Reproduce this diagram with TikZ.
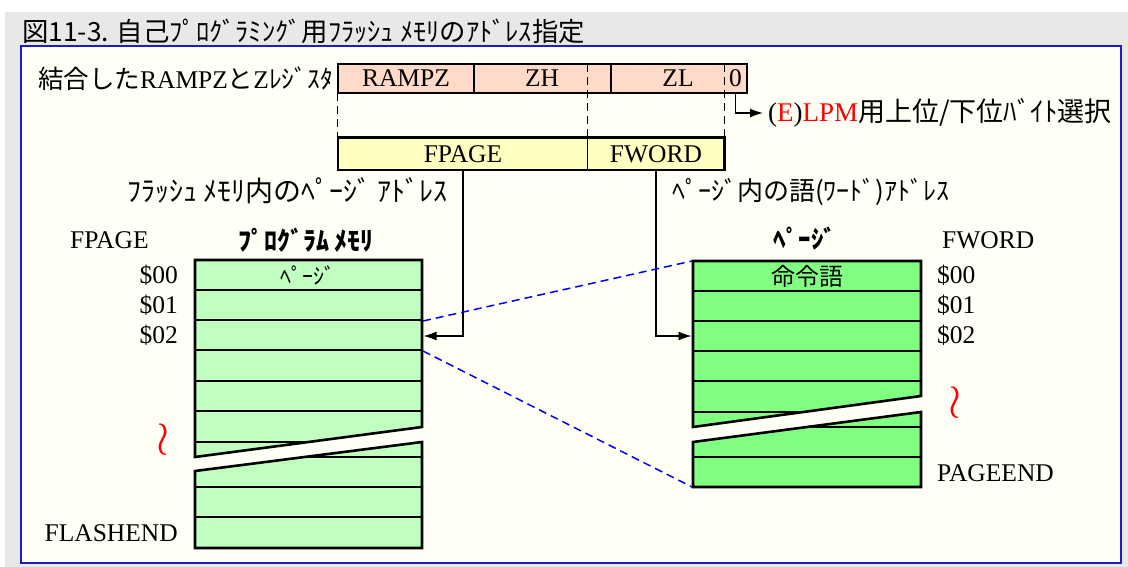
\documentclass[tikz,border=0pt]{standalone}
\usepackage{fontspec}
\setmainfont{Liberation Serif}
\newfontfamily\jp{Noto Sans CJK JP}
\usetikzlibrary{arrows,arrows.meta,shapes}
\definecolor{outergray}{HTML}{E8E8E8}
\definecolor{panelbg}{HTML}{FFFFF6}
\definecolor{frameblue}{HTML}{1C1CC8}
\definecolor{regpeach}{HTML}{FFDAC8}
\definecolor{wordyellow}{HTML}{FFFFC0}
\definecolor{flashgreen}{HTML}{C0FFC0}
\definecolor{pagegreen}{HTML}{80FF80}
\tikzstyle{membox}=[draw,line width=2.6pt,line join=miter]
\tikzstyle{rowline}=[draw,line width=1.2pt]
\tikzstyle{txt}=[inner sep=0pt,font=\fontsize{25.5}{28}\selectfont]
\tikzstyle{jptxt}=[inner sep=0pt,font=\jp\fontsize{27}{30}\selectfont]
\tikzstyle{regtxt}=[txt,minimum height=29pt]
\tikzstyle{conn}=[draw,line width=1.3pt,-{Latex[length=13pt,width=9pt]}]
\tikzstyle{guide}=[draw,line width=1.3pt,dash pattern=on 8pt off 5pt]
\tikzstyle{zoomline}=[draw,blue,line width=1.5pt,dash pattern=on 8pt off 5pt]
\tikzstyle{gap}=[red,inner sep=0pt,scale=1.9,font=\fontsize{24}{24}\selectfont]

\begin{document}
\begin{tikzpicture}[x=1pt,y=-1pt]
    \useasboundingbox (0,0) rectangle (1128,567);
    % background and frame
    \fill[white] (0,0) rectangle (1128,567);
    \fill[outergray] (5,12) rectangle (1128,567);
    \draw[frameblue,line width=2pt,fill=panelbg] (21,46) rectangle (1121,563);
    \node[jptxt,font=\jp\fontsize{26.4}{30}\selectfont,anchor=base west] (title) at (22,42) {図11-3. 自己ﾌﾟﾛｸﾞﾗﾐﾝｸﾞ用ﾌﾗｯｼｭ ﾒﾓﾘのｱﾄﾞﾚｽ指定};

    % combined Z register
    \fill[regpeach] (338,64) rectangle (747,93);
    \foreach \x/\name/\t in {406/rampz/RAMPZ, 542/zh/ZH, 678/zl/ZL, 735.5/bit0/0}
        \node[regtxt] (\name) at (\x,78.5) {\t};
    \draw[membox] (338,64) rectangle (747,93);
    \draw[rowline] (474,64) -- (474,93) (611,64) -- (611,93);
    \node[jptxt,font=\jp\fontsize{25.5}{28}\selectfont,anchor=east] (zreg) at (333,79) {結合した{\rmfamily RAMPZ}と{\rmfamily Z}ﾚｼﾞｽﾀ};

    % FPAGE / FWORD
    \node[txt,fill=wordyellow,minimum width=250pt,minimum height=32pt] (fpage) at (463,154) {FPAGE};
    \node[txt,fill=wordyellow,minimum width=136pt,minimum height=32pt] (fword) at (656,154) {FWORD};
    \draw[membox] (fpage.north west) rectangle (fword.south east);
    \draw[rowline] (fword.north west) -- (fword.south west);
    \coordinate (regtop) at (0,64);
    \coordinate (regbot) at (0,93);
    \draw[guide] (fpage.north west |- regbot) -- (fpage.north west);
    \draw[guide] (fword.north west |- regtop) -- (fword.north west);
    \draw[guide] (fword.north east |- regtop) -- (fword.north east);

    % byte select
    \node[jptxt,anchor=west,inner xsep=5pt] (sel) at (763,113) {{\rmfamily(\textcolor{red}{E})\textcolor{red}{LPM}}用上位/下位ﾊﾞｲﾄ選択};
    \path[conn] (bit0.south) |- (sel.west);

    \node[jptxt,font=\jp\fontsize{28}{30}\selectfont,anchor=east] (pagelbl) at (448,191) {ﾌﾗｯｼｭ ﾒﾓﾘ内のﾍﾟｰｼﾞ ｱﾄﾞﾚｽ};
    \node[jptxt,font=\jp\fontsize{26}{28}\selectfont,anchor=west] (wordlbl) at (672,192) {ﾍﾟｰｼﾞ内の語(ﾜｰﾄﾞ)ｱﾄﾞﾚｽ};

    % headings
    \node[txt,anchor=west] (fpagehd) at (70,240) {FPAGE};
    \node[jptxt,font=\jp\bfseries\fontsize{26}{28}\selectfont] (flashhd) at (306,240) {ﾌﾟﾛｸﾞﾗﾑ ﾒﾓﾘ};
    \node[jptxt,font=\jp\bfseries\fontsize{25}{28}\selectfont] (pagehd) at (805,238) {ﾍﾟｰｼﾞ};
    \node[txt,anchor=west] (fwordhd) at (942,240) {FWORD};

    % program memory
    \begin{scope}
        \clip (195,260) -- (422,260) -- (422,427) -- (195,457) -- cycle;
        \fill[flashgreen] (195,260) rectangle (422,457);
        \foreach \y in {290,320,350,381,411,442}
            \draw[rowline] (195,\y) -- (422,\y);
    \end{scope}
    \draw[membox] (195,260) -- (422,260) -- (422,427) -- (195,457) -- cycle;
    \begin{scope}
        \clip (195,471) -- (422,442) -- (422,548) -- (195,548) -- cycle;
        \fill[flashgreen] (195,442) rectangle (422,548);
        \foreach \y in {457,487,517}
            \draw[rowline] (195,\y) -- (422,\y);
    \end{scope}
    \draw[membox] (195,471) -- (422,442) -- (422,548) -- (195,548) -- cycle;

    % page
    \begin{scope}
        \clip (693,261) -- (921,261) -- (921,396) -- (693,427) -- cycle;
        \fill[pagegreen] (693,261) rectangle (921,427);
        \foreach \y in {291,321,351,381,412}
            \draw[rowline] (693,\y) -- (921,\y);
    \end{scope}
    \draw[membox] (693,261) -- (921,261) -- (921,396) -- (693,427) -- cycle;
    \begin{scope}
        \clip (693,442) -- (921,412) -- (921,487) -- (693,487) -- cycle;
        \fill[pagegreen] (693,412) rectangle (921,487);
        \foreach \y in {427,457}
            \draw[rowline] (693,\y) -- (921,\y);
    \end{scope}
    \draw[membox] (693,442) -- (921,412) -- (921,487) -- (693,487) -- cycle;

    \node[jptxt,font=\jp\fontsize{22}{24}\selectfont] (pagecell) at (308,275) {ﾍﾟｰｼﾞ};
    \node[jptxt,font=\jp\fontsize{24}{26}\selectfont] (instcell) at (807,276) {命令語};

    % row numbers
    \foreach \y/\t in {275/00, 305/01, 335/02} {
        \node[txt,anchor=east] (fl\t) at (178,\y) {\$\t};
        \node[txt,anchor=west] (pg\t) at (937,\y) {\$\t};
    }
    \node[txt,anchor=east] (flashend) at (178,533) {FLASHEND};
    \node[txt,anchor=west] (pageend) at (937,473) {PAGEEND};
    \node[gap] (flashgap) at (163,440) {$\wr$};
    \node[gap] (pagegap) at (955,403) {$\wr$};

    % address connectors
    \coordinate (flrow2) at (423.5,336);
    \coordinate (pgrow2) at (691.5,336);
    \path[conn] (fpage.south) |- (flrow2);
    \path[conn] (fword.south) |- (pgrow2);
    \coordinate (flrow2a) at (423,321);
    \coordinate (flrow2b) at (423,351);
    \coordinate (pagetop) at (692,261);
    \coordinate (pagebot) at (692,487);
    \path[zoomline] (flrow2a) -- (pagetop);
    \path[zoomline] (flrow2b) -- (pagebot);
\end{tikzpicture}
\end{document}
